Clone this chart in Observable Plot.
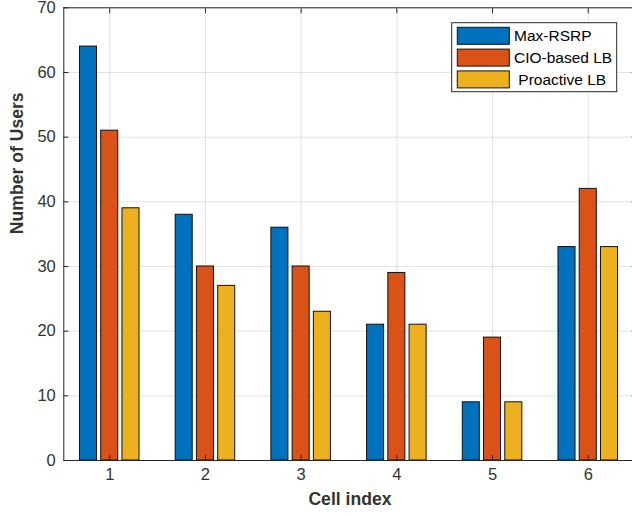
<!DOCTYPE html>
<html>
<head>
<meta charset="utf-8">
<script src="https://cdn.jsdelivr.net/npm/d3@7"></script>
<script src="https://cdn.jsdelivr.net/npm/@observablehq/plot@0.6"></script>
<style>
  html, body { margin: 0; padding: 0; background: #fff; overflow: hidden; }
  #chart svg { display: block; }
</style>
</head>
<body>
<div id="chart"></div>
<script>
// Users served per cell under three association schemes
const cells = [1, 2, 3, 4, 5, 6];
const schemes = ["Max-RSRP", "CIO-based LB", "Proactive LB"];
const legendLabels = ["Max-RSRP", "CIO-based LB", " Proactive LB"];
const maxRsrp = [64, 38, 36, 21, 9, 33];
const cioBased = [51, 30, 30, 29, 19, 42];
const proactive = [39, 27, 23, 21, 9, 33];
const yTicks = [0, 10, 20, 30, 40, 50, 60, 70];
const colors = ["#0072BD", "#D95319", "#EDB120"];

const seriesValues = [maxRsrp, cioBased, proactive];
const rows = [];
schemes.forEach((s, k) => {
  cells.forEach((c, i) => rows.push({cell: c, scheme: s, k, users: seriesValues[k][i]}));
});

// grouped bar geometry, in x-axis units
const pitch = 0.222, half = 0.089;

const ink = "#262626";
const font = "'Liberation Sans', Arial, Helvetica, sans-serif";

const chart = Plot.plot({
  width: 632,
  height: 516,
  marginLeft: 63.3,
  marginRight: -3.6,
  marginTop: 7.3,
  marginBottom: 56,
  style: {fontFamily: font, fontSize: "16px", color: ink, background: "#fff"},
  x: {domain: [0.52, 6.5]},
  y: {domain: [0, 70]},
  color: {domain: schemes, range: colors},
  marks: [
    Plot.gridY(yTicks, {stroke: ink, strokeOpacity: 0.13}),
    Plot.gridX(cells, {stroke: ink, strokeOpacity: 0.13}),
    Plot.rect(rows, {
      x1: d => d.cell + (d.k - 1) * pitch - half,
      x2: d => d.cell + (d.k - 1) * pitch + half,
      y1: 0,
      y2: "users",
      fill: "scheme",
      stroke: "#111",
      strokeWidth: 1
    }),
    Plot.axisY(yTicks, {anchor: "left", tickSize: -5, tickPadding: 13, label: null, stroke: ink, fill: "#333", fontSize: 16.5}),
    Plot.axisY(yTicks, {anchor: "right", tickSize: -5, tickFormat: () => "", label: null, stroke: ink}),
    Plot.axisX(cells, {anchor: "bottom", tickSize: -5, tickPadding: 13, label: null, stroke: ink, fill: "#333", fontSize: 16.5}),
    Plot.axisX(cells, {anchor: "top", tickSize: -5, tickFormat: () => "", label: null, stroke: ink}),
    Plot.frame({stroke: ink, strokeWidth: 1}),
    Plot.text(["Number of Users"], {frameAnchor: "left", dx: -46, rotate: -90, fontWeight: "bold", fontSize: 17.6, fill: "#333"}),
    Plot.text(["Cell index"], {frameAnchor: "bottom", dy: 44, fontWeight: "bold", fontSize: 17.6, fill: "#333"})
  ]
});

document.getElementById("chart").append(chart);

// Legend box in the upper-right corner of the axes
const color = chart.scale("color");
const svg = d3.select(chart);
const lg = svg.append("g").attr("transform", "translate(451.7,22.7)")
  .attr("text-anchor", "start").style("font-family", font);
lg.append("rect").attr("width", 165).attr("height", 69)
  .attr("fill", "#fff").attr("stroke", ink).attr("stroke-width", 1);
schemes.forEach((s, i) => {
  const y = 4.6 + i * 21.8;
  lg.append("rect").attr("x", 5.6).attr("y", y).attr("width", 52).attr("height", 17)
    .attr("fill", color.apply(s)).attr("stroke", "#111").attr("stroke-width", 1);
  lg.append("text").attr("x", 62.3).attr("y", y + 8.5).attr("dy", "0.35em")
    .attr("text-anchor", "start")
    .attr("font-size", 15.5).attr("fill", "#000")
    .style("white-space", "pre")
    .text(legendLabels[i]);
});
</script>
</body>
</html>
